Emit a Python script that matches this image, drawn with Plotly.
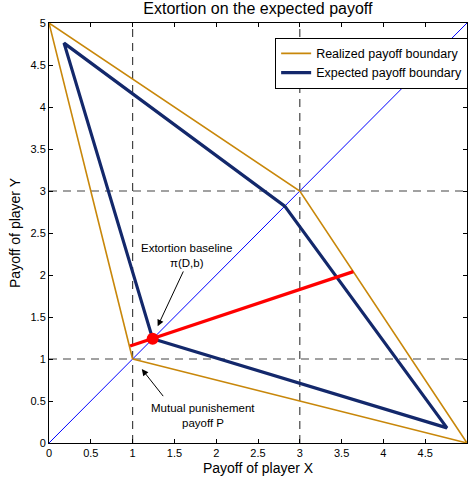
import plotly.graph_objects as go

# Realized payoff boundary (closed polygon)
realized_x = [1, 0, 3, 5, 1]
realized_y = [1, 5, 3, 0, 1]

# Expected payoff boundary (closed polygon)
expected_x = [1.24, 0.18, 2.82, 4.76, 1.24]
expected_y = [1.24, 4.76, 2.82, 0.18, 1.24]

# Diagonal
diag_x = [0, 5]
diag_y = [0, 5]

# Extortion line
ext_x = [0.97, 3.64]
ext_y = [1.155, 2.04]

# Baseline point
base_x = [1.24]
base_y = [1.24]

# Reference lines
ref_vals = [1, 3]

ticks = [0, 0.5, 1, 1.5, 2, 2.5, 3, 3.5, 4, 4.5, 5]
tick_text = ["0", "0.5", "1", "1.5", "2", "2.5", "3", "3.5", "4", "4.5", "5"]

FONT = "Liberation Sans, Arial, sans-serif"

fig = go.Figure()

for v in ref_vals:
    fig.add_trace(go.Scatter(x=[v, v], y=[0, 5], mode="lines",
                             line=dict(color="#444444", width=1.2, dash="8px,6px"),
                             showlegend=False, hoverinfo="skip"))
    fig.add_trace(go.Scatter(x=[0, 5], y=[v, v], mode="lines",
                             line=dict(color="#444444", width=1.2, dash="8px,6px"),
                             showlegend=False, hoverinfo="skip"))

fig.add_trace(go.Scatter(x=diag_x, y=diag_y, mode="lines",
                         line=dict(color="#0000ff", width=1), showlegend=False))

fig.add_trace(go.Scatter(x=realized_x, y=realized_y, mode="lines",
                         line=dict(color="#C8870A", width=1.6),
                         name="Realized payoff boundary"))
fig.add_trace(go.Scatter(x=expected_x, y=expected_y, mode="lines",
                         line=dict(color="#13286B", width=3.2),
                         name="Expected payoff boundary"))

fig.add_trace(go.Scatter(x=ext_x, y=ext_y, mode="lines",
                         line=dict(color="#ff0000", width=3.2), showlegend=False))
fig.add_trace(go.Scatter(x=base_x, y=base_y, mode="markers",
                         marker=dict(color="#ff0000", size=12), showlegend=False))

annotations = [
    dict(x=1.65, y=2.32, text="Extortion baseline", showarrow=False,
         font=dict(family=FONT, size=11.5, color="black")),
    dict(x=1.65, y=2.14, text="π(D,b)", showarrow=False,
         font=dict(family=FONT, size=11.5, color="black")),
    dict(x=1.30, y=1.39, ax=1.615, ay=2.06, axref="x", ayref="y", xref="x", yref="y",
         text="", showarrow=True, arrowhead=2, arrowsize=1.3, arrowwidth=1,
         arrowcolor="black", standoff=0, startstandoff=0),
    dict(x=1.84, y=0.42, text="Mutual punishement", showarrow=False,
         font=dict(family=FONT, size=11.5, color="black")),
    dict(x=1.84, y=0.24, text="payoff P", showarrow=False,
         font=dict(family=FONT, size=11.5, color="black")),
    dict(x=1.11, y=0.88, ax=1.38, ay=0.54, axref="x", ayref="y", xref="x", yref="y",
         text="", showarrow=True, arrowhead=2, arrowsize=1.3, arrowwidth=1,
         arrowcolor="black", standoff=0, startstandoff=0),
]

axis_common = dict(
    range=[0, 5], tickvals=ticks, ticktext=tick_text,
    ticks="inside", ticklen=4, tickcolor="black", tickwidth=1,
    showline=True, linecolor="black", linewidth=1, mirror="ticks",
    showgrid=False, zeroline=False, automargin=False,
    tickfont=dict(family=FONT, size=11, color="black"),
)

fig.update_layout(
    width=468, height=481,
    margin=dict(l=49, r=1, t=23, b=38, autoexpand=False),
    paper_bgcolor="white", plot_bgcolor="white",
    title=dict(text="Extortion on the expected payoff", x=0.551, xanchor="center",
               y=0.995, yanchor="top",
               font=dict(family=FONT, size=16, color="black")),
    xaxis=dict(**axis_common, title=dict(text="Payoff of player X", standoff=4,
                                         font=dict(family=FONT, size=14, color="black"))),
    yaxis=dict(**axis_common, title=dict(text="Payoff of player Y", standoff=6,
                                         font=dict(family=FONT, size=14, color="black"))),
    legend=dict(x=0.541, y=0.965, xanchor="left", yanchor="top",
                bgcolor="white", bordercolor="black", borderwidth=1,
                font=dict(family=FONT, size=12.5, color="black"),
                tracegroupgap=0, itemwidth=30),
    annotations=annotations,
    showlegend=True,
)

fig.write_html("out.html",
               config={"displayModeBar": False},
               post_script="document.body.style.margin='0';document.body.style.overflow='hidden';")
